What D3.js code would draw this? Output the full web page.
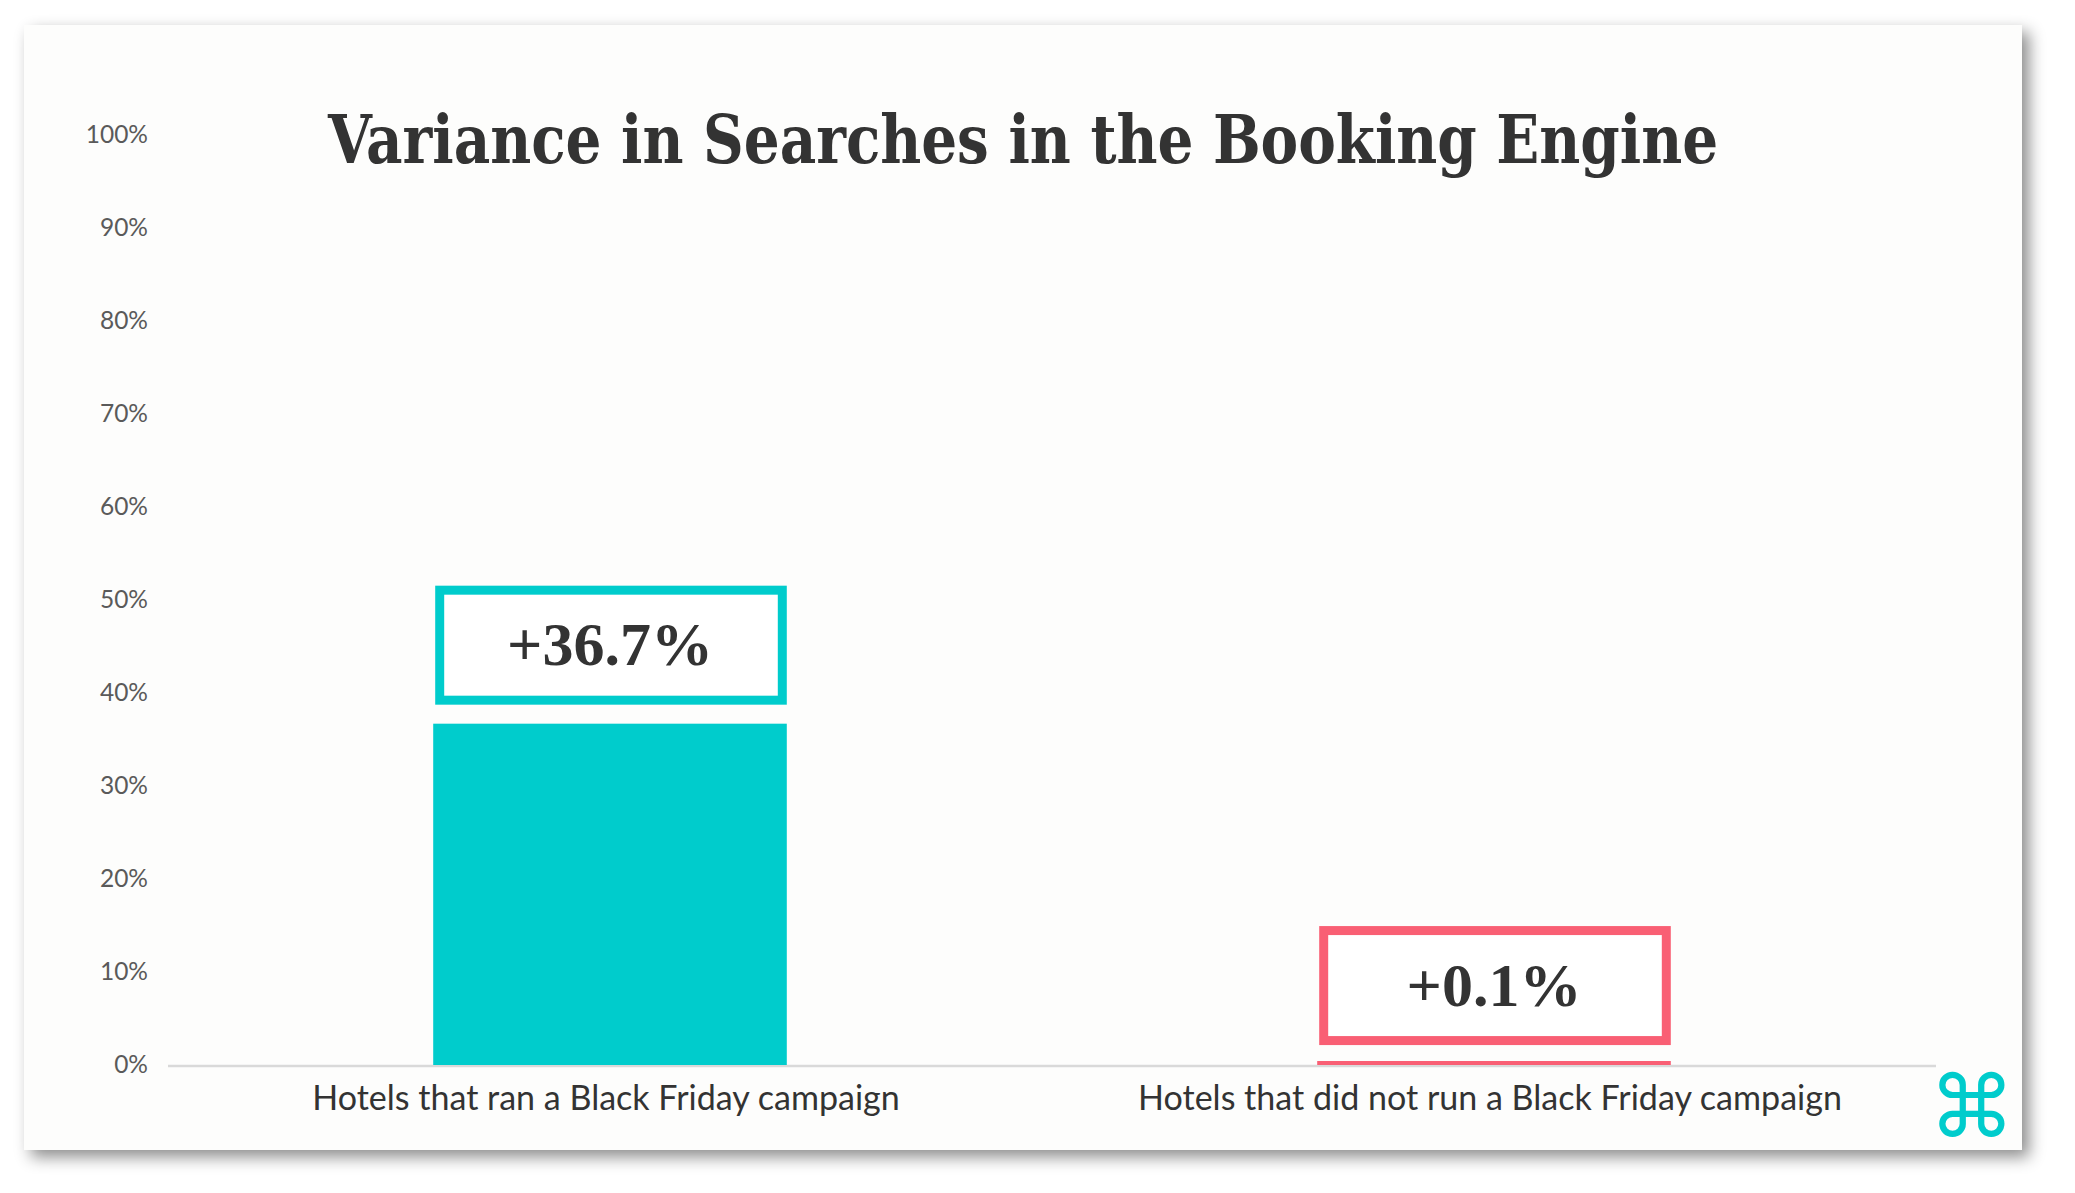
<!DOCTYPE html>
<html>
<head>
<meta charset="utf-8">
<script src="https://cdn.jsdelivr.net/npm/d3@7"></script>
<style>
  html, body { margin: 0; padding: 0; background: #ffffff; }
  svg { display: block; }
</style>
</head>
<body>
<svg id="chart" width="2075" height="1193"></svg>
<script>
// ---- data ----
const title = "Variance in Searches in the Booking Engine";
const categories = ["Hotels that ran a Black Friday campaign", "Hotels that did not run a Black Friday campaign"];
const values = [0.367, 0.001];
const valueLabels = ["+36.7%", "+0.1%"];
const barColors = ["#00CCCC", "#F95F74"];
const yTicks = [0, 0.1, 0.2, 0.3, 0.4, 0.5, 0.6, 0.7, 0.8, 0.9, 1.0];

const svg = d3.select("#chart");

// shadow filter
const defs = svg.append("defs");
const f = defs.append("filter").attr("id", "shadow").attr("x", "-5%").attr("y", "-5%").attr("width", "112%").attr("height", "115%");
f.append("feDropShadow").attr("dx", 7).attr("dy", 7).attr("stdDeviation", 8)
  .attr("flood-color", "#000").attr("flood-opacity", 0.45);

// card
svg.append("rect").attr("x", 24).attr("y", 25).attr("width", 1998).attr("height", 1125)
  .attr("fill", "#fdfdfc").attr("filter", "url(#shadow)");

// scales
const x = d3.scaleBand().domain(categories).range([168, 1936]).paddingInner(0.6).paddingOuter(0.3);
const y = d3.scaleLinear().domain([0, 1]).range([1065, 135]);

// y axis labels
const yAxis = d3.axisLeft(y).tickValues(yTicks).tickFormat(d3.format(".0%")).tickSize(0).tickPadding(20);
const ga = svg.append("g").attr("transform", "translate(168,0)").call(yAxis);
ga.select(".domain").remove();
ga.selectAll("text").attr("font-family", "Lato, 'Open Sans', sans-serif").attr("font-size", 24.5)
  .attr("fill", "#5a5a5a");

// baseline
svg.append("line").attr("x1", 168).attr("x2", 1936).attr("y1", 1066).attr("y2", 1066)
  .attr("stroke", "#d9d9d9").attr("stroke-width", 2.5);

// bars
const minH = 4;
svg.append("g").selectAll("rect").data(categories).join("rect")
  .attr("x", d => x(d))
  .attr("width", x.bandwidth())
  .attr("y", (d, i) => Math.min(y(values[i]), y(0) - minH))
  .attr("height", (d, i) => Math.max(y(0) - y(values[i]), minH))
  .attr("fill", (d, i) => barColors[i]);

// label boxes
const sw = 9, boxH = 119, gap = 19;
const boxes = svg.append("g").selectAll("g").data(categories).join("g");
boxes.append("rect")
  .attr("x", d => x(d) + 2 + sw / 2)
  .attr("width", x.bandwidth() - 2 - sw)
  .attr("y", (d, i) => y(values[i]) - gap - boxH + sw / 2)
  .attr("height", boxH - sw)
  .attr("fill", "#ffffff")
  .attr("stroke", (d, i) => barColors[i])
  .attr("stroke-width", sw);
boxes.append("text")
  .attr("x", d => x(d) + x.bandwidth() / 2)
  .attr("y", (d, i) => y(values[i]) - gap - boxH / 2 + 20)
  .attr("text-anchor", "middle")
  .attr("font-family", "'Liberation Serif', 'DejaVu Serif', serif")
  .attr("font-weight", "bold")
  .attr("font-size", 62)
  .attr("fill", "#333333")
  .text((d, i) => valueLabels[i]);

// category labels
const catG = svg.append("g").selectAll("text").data(categories).join("text")
  .attr("x", d => x(d) + x.bandwidth() / 2 - 4)
  .attr("y", 1110)
  .attr("text-anchor", "middle")
  .attr("font-family", "Lato, 'Open Sans', sans-serif")
  .attr("font-size", 30)
  .attr("fill", "#333333")
  .text(d => d);
const w0 = catG.nodes()[0].getComputedTextLength();
const fsCat = 30 * 588 / w0;
catG.attr("font-size", fsCat);

// title
const t = svg.append("text")
  .attr("x", 1023).attr("y", 163)
  .attr("text-anchor", "middle")
  .attr("font-family", "'DejaVu Serif', serif")
  .attr("font-stretch", "condensed")
  .attr("font-weight", "bold")
  .attr("font-size", 68)
  .attr("fill", "#333333")
  .text(title);
const tw = t.node().getComputedTextLength();
if (Math.abs(tw - 1390) > 10) {
  t.attr("textLength", 1390).attr("lengthAdjust", "spacingAndGlyphs");
}

// logo
svg.append("text").attr("x", 1972).attr("y", 1137).attr("text-anchor", "middle")
  .attr("font-family", "'DejaVu Sans', sans-serif").attr("font-size", 86).attr("fill", "#00CCCC")
  .text("\u2318");
</script>
</body>
</html>
